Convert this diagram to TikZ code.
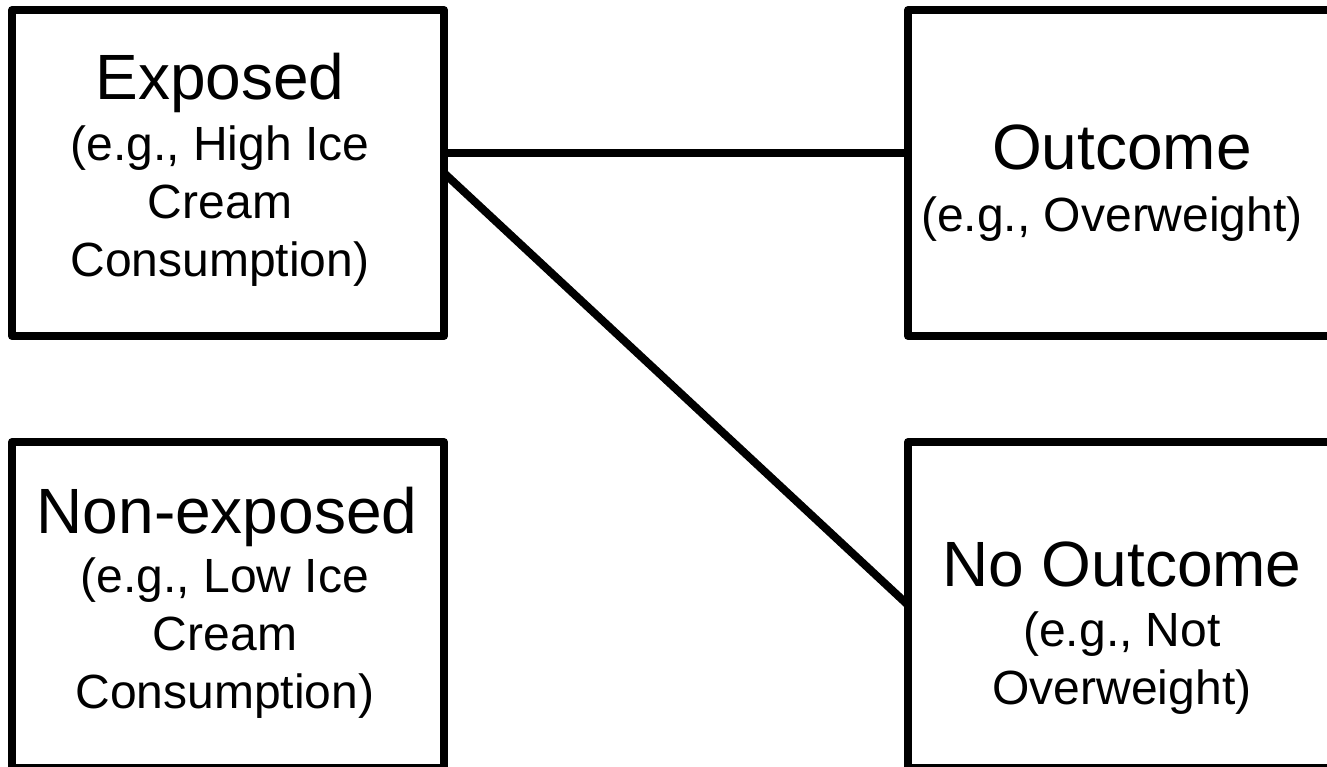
\documentclass[tikz,border=0pt]{standalone}
\usepackage{fontspec}
\setmainfont{Liberation Sans}
\begin{document}
\begin{tikzpicture}[x=1pt,y=-1pt,
  box/.style={draw,line width=8pt,line join=round,rectangle,inner sep=0pt,outer sep=0pt,
              minimum width=432pt,minimum height=326pt},
  link/.style={line width=8pt},
  head/.style={anchor=base,inner sep=0pt,font=\fontsize{64}{64}\selectfont},
  sub/.style={anchor=base,inner sep=0pt,font=\fontsize{48}{48}\selectfont}]
\useasboundingbox (0,0) rectangle (1327,766);
\clip (0,0) rectangle (1327,766);

% boxes
\node[box] (TL) at (228,173) {};
\node[box] (TR) at (1124,173) {};
\node[box] (BL) at (228,605) {};
\node[box] (BR) at (1124,605) {};

% connectors
\draw[link] ([yshift=20pt]TL.east) -- ([yshift=20pt]TR.west);
\draw[link] (TL.east) -- (BR.west);

% exposed group
\node[head] (t1) at (220,99) {Exposed};
\node[sub] (t2) at (220,160) {(e.g., High Ice};
\node[sub] (t3) at (220,218) {Cream};
\node[sub] (t4) at (220,276) {Consumption)};

% non-exposed group
\node[head] (b1) at (227,533) {Non-exposed};
\node[sub] (b2) at (225,592) {(e.g., Low Ice};
\node[sub] (b3) at (225,650) {Cream};
\node[sub] (b4) at (225,708) {Consumption)};

% outcome
\node[head] (o1) at (1122,169) {Outcome};
\node[sub] (o2) at (1112,231) {(e.g., Overweight)};

% no outcome
\node[head] (n1) at (1122,586) {No Outcome};
\node[sub] (n2) at (1122,646) {(e.g., Not};
\node[sub] (n3) at (1122,704) {Overweight)};
\end{tikzpicture}
\end{document}
